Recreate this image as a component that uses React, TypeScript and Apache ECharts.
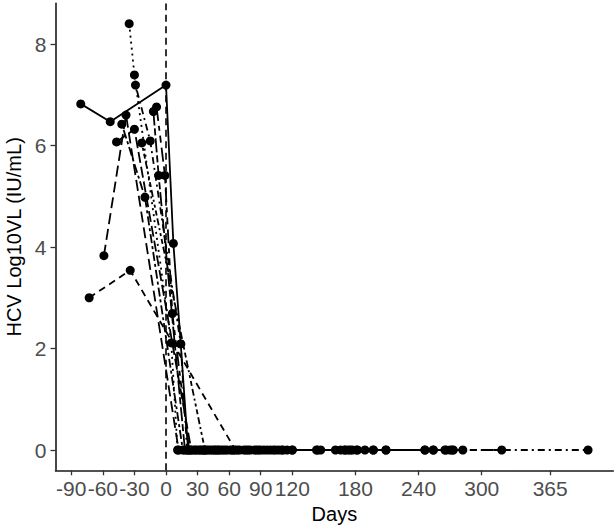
import React, { useEffect, useRef } from "react";
import * as echarts from "echarts";

// [day, log10 VL] per patient
const p01 = [[-81, 6.82], [-53, 6.47], [0, 7.19], [7, 4.07], [14, 2.09], [21, 0], [28, 0], [42, 0], [56, 0], [84, 0], [111, 0], [144, 0], [170, 0], [182, 0], [197, 0], [209, 0], [246, 0], [266, 0], [282, 0]];
const p02 = [[-73, 3.0], [-34, 3.54], [66, 0], [90, 0], [120, 0], [147, 0], [175, 0], [254, 0], [319, 0]];
const p03 = [[-59, 3.83], [-38, 6.6], [12, 0], [27, 0], [40, 0], [68, 0], [96, 0], [161, 0], [189, 0], [273, 0]];
const p04 = [[-35, 8.4], [-30, 7.39], [5, 2.11], [11, 0], [24, 0], [35, 0], [52, 0], [80, 0], [107, 0], [166, 0], [270, 0]];
const p05 = [[-29, 7.19], [-15, 6.09], [14, 2.09], [20, 0], [33, 0], [47, 0], [61, 0], [88, 0], [102, 0], [143, 0], [177, 0], [246, 0], [401, 0]];
const p06 = [[-47, 6.07], [-30, 6.32], [24, 0], [38, 0], [50, 0], [64, 0], [78, 0], [110, 0], [173, 0], [265, 0]];
const p07 = [[-42, 6.42], [-20, 4.98], [16, 0], [30, 0], [44, 0], [58, 0], [86, 0], [120, 0], [181, 0], [272, 0]];
const p08 = [[-23, 6.05], [37, 0], [49, 0], [63, 0], [76, 0], [99, 0], [209, 0]];
const p09 = [[-12, 6.67], [-7, 5.41], [18, 0], [32, 0], [46, 0], [74, 0], [104, 0], [197, 0]];
const p10 = [[-9, 6.76], [-1, 5.41], [6, 2.69], [22, 0], [36, 0], [54, 0], [70, 0], [93, 0], [115, 0], [170, 0], [254, 0]];

const patients = [p01, p02, p03, p04, p05, p06, p07, p08, p09, p10];
const dashes: any[] = [
  "solid",
  [7, 5],
  [11, 5],
  [2, 4],
  [2, 4, 7, 4],
  [11, 4],
  [3, 3, 9, 3],
  [2, 3, 3, 3, 5, 3, 7, 3],
  [14, 3, 7, 3],
  [14, 5, 5, 5, 7, 5],
];

const xTicks = [-90, -60, -30, 0, 30, 60, 90, 120, 180, 240, 300, 365];
const yTicks = [0, 2, 4, 6, 8];

export default function App() {
  const ref = useRef<HTMLDivElement>(null);
  useEffect(() => {
    document.body.style.margin = "0";
    const chart = echarts.init(ref.current!, null, { renderer: "svg" });
    const font = "Liberation Sans, Arial, sans-serif";
    const series: any[] = patients.map((p, i) => ({
      type: "line",
      data: p,
      symbol: "circle",
      symbolSize: 9,
      itemStyle: { color: "#000" },
      lineStyle: { color: "#000", width: 1.8, type: dashes[i] },
      z: 3,
    }));
    series.push({
      type: "line",
      data: [[0, -0.4], [0, 8.8]],
      symbol: "none",
      lineStyle: { color: "#000", width: 1.6, type: [7, 4.5] },
      z: 2,
    });
    chart.setOption({
      animation: false,
      grid: { left: 55.5, top: 3.4, width: 557.8, height: 466.9, containLabel: false, outerBoundsMode: "none" },
      xAxis: {
        type: "value",
        min: -105,
        max: 425,
        name: "Days",
        nameLocation: "middle",
        nameGap: 34,
        nameTextStyle: { fontSize: 20, color: "#000", fontFamily: font },
        splitLine: { show: false },
        axisLine: { onZero: false, lineStyle: { color: "#1a1a1a", width: 1.6 } },
        axisTick: { customValues: xTicks, length: 5, lineStyle: { color: "#333", width: 1.3 } },
        axisLabel: { customValues: xTicks, fontSize: 21, color: "#4d4d4d", margin: 8, fontFamily: font },
      },
      yAxis: {
        type: "value",
        min: -0.4,
        max: 8.8,
        name: "HCV Log10VL (IU/mL)",
        nameLocation: "middle",
        nameGap: 27,
        nameTextStyle: { fontSize: 20, color: "#000", fontFamily: font },
        splitLine: { show: false },
        axisLine: { show: true, onZero: false, lineStyle: { color: "#1a1a1a", width: 1.6 } },
        axisTick: { show: true, customValues: yTicks, length: 5, lineStyle: { color: "#333", width: 1.3 } },
        axisLabel: { customValues: yTicks, fontSize: 21, color: "#4d4d4d", margin: 9, fontFamily: font },
      },
      series,
    });
    return () => chart.dispose();
  }, []);
  return <div ref={ref} style={{ width: 615, height: 528 }} />;
}
